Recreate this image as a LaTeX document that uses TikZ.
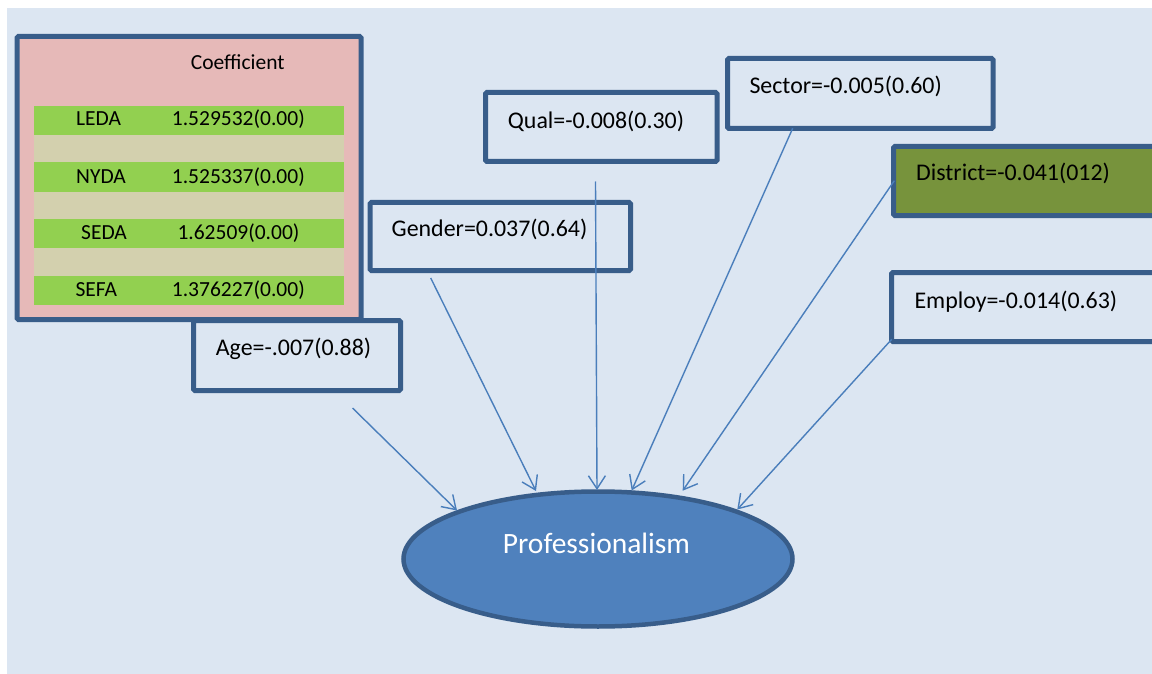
\documentclass[tikz,border=0pt]{standalone}
\usepackage{fontspec}
\setmainfont{Carlito}
\usetikzlibrary{arrows.meta,shapes.geometric}

\definecolor{bgblue}{HTML}{DCE6F2}
\definecolor{frame}{HTML}{385D8A}
\definecolor{pinkfill}{HTML}{E6B9B8}
\definecolor{rowgreen}{HTML}{92D050}
\definecolor{rowbeige}{HTML}{D3D0AE}
\definecolor{olive}{HTML}{77933C}
\definecolor{ovalfill}{HTML}{4F81BD}
\definecolor{linkblue}{HTML}{4A7EBB}

\tikzset{
  factor/.style={draw=frame, line width=5pt, rounded corners=1.5pt, inner sep=0pt, outer sep=0pt},
  lbl/.style={anchor=base west, inner sep=0pt, font=\fontsize{23.9}{28}\selectfont},
  tbl/.style={anchor=base west, inner sep=0pt, font=\fontsize{21.5}{26}\selectfont},
  rowband/.style={inner sep=0pt, outer sep=0pt, minimum width=309.5pt, minimum height=#1},
  effect/.style={draw=linkblue, line width=1.4pt, -{Straight Barb[length=13pt,width=17pt]}},
}

\begin{document}
\begin{tikzpicture}[x=1pt,y=-1pt]
  \useasboundingbox (0,0) rectangle (1152,674);
  \clip (0,0) rectangle (1152,674);
  \fill[bgblue] (7,8) rectangle (1160,680);

  % coefficient table
  \node[factor, fill=pinkfill, minimum width=344pt, minimum height=283pt] (table) at (189,178) {};
  \node[tbl] (coefhead) at (190.7,70) {Coefficient};
  \node[rowband=29pt, fill=rowgreen, anchor=north west] (r1) at (34,106) {};
  \node[rowband=27pt, fill=rowbeige, anchor=north west] (g1) at (34,135) {};
  \node[rowband=30pt, fill=rowgreen, anchor=north west] (r2) at (34,162) {};
  \node[rowband=27pt, fill=rowbeige, anchor=north west] (g2) at (34,192) {};
  \node[rowband=29pt, fill=rowgreen, anchor=north west] (r3) at (34,219) {};
  \node[rowband=28pt, fill=rowbeige, anchor=north west] (g3) at (34,248) {};
  \node[rowband=29pt, fill=rowgreen, anchor=north west] (r4) at (34,276) {};
  \node[tbl] (leda) at (76,126) {LEDA};
  \node[tbl] (ledav) at (171.7,126) {1.529532(0.00)};
  \node[tbl] (nyda) at (76,183.3) {NYDA};
  \node[tbl] (nydav) at (171.7,183.3) {1.525337(0.00)};
  \node[tbl] (seda) at (81,240) {SEDA};
  \node[tbl] (sedav) at (177.3,240) {1.62509(0.00)};
  \node[tbl] (sefa) at (75.3,296) {SEFA};
  \node[tbl] (sefav) at (171.7,296) {1.376227(0.00)};

  % factor boxes
  \node[factor, minimum width=207pt, minimum height=70pt] (age) at (297,355.5) {};
  \node[lbl] (agetxt) at (215.7,355.7) {Age=-.007(0.88)};

  \node[factor, minimum width=260.5pt, minimum height=68pt] (gender) at (500.25,236.5) {};
  \node[lbl] (gendertxt) at (391.5,236.7) {Gender=0.037(0.64)};

  \node[factor, minimum width=231.5pt, minimum height=69pt] (qual) at (601.25,127) {};
  \node[lbl] (qualtxt) at (507.7,128.3) {Qual=-0.008(0.30)};

  \node[factor, minimum width=265.5pt, minimum height=70pt] (sector) at (860.25,93.5) {};
  \node[lbl] (sectortxt) at (749.3,93.3) {Sector=-0.005(0.60)};

  \node[factor, fill=olive, minimum width=300pt, minimum height=69pt] (district) at (1043.5,181) {};
  \node[lbl] (districttxt) at (916,181) {District=-0.041(012)};

  \node[factor, minimum width=300pt, minimum height=69pt] (employ) at (1041.5,307) {};
  \node[lbl] (employtxt) at (914.3,308.3) {Employ=-0.014(0.63)};

  % outcome: filled oval, then its outline
  \node[ellipse, fill=ovalfill, inner sep=0pt, outer sep=0pt,
        minimum width=389pt, minimum height=135pt] (prof) at (598,559) {};
  \draw[frame, line width=4.5pt] (prof.center) ellipse [x radius=194.5, y radius=67.5];
  \node[anchor=base, inner sep=0pt, text=white, font=\fontsize{29.5}{34}\selectfont] (proftxt) at (596.5,553.3) {Professionalism};

  % connector end points
  \coordinate (ageS) at (352.5,408);
  \coordinate (ageE) at (457,510.5);
  \coordinate (genderS) at (430.7,278);
  \coordinate (genderE) at (536,491);
  \coordinate (qualS) at (595.5,181.5);
  \coordinate (qualE) at (597,490);
  \coordinate (sectorS) at (792.7,128.3);
  \coordinate (sectorE) at (631.7,490.5);
  \coordinate (districtS) at (894.3,180.7);
  \coordinate (districtE) at (682.7,490.7);
  \coordinate (employS) at (891.7,339.3);
  \coordinate (employE) at (737.3,509.5);

  \draw[effect] (ageS) -- (ageE);
  \draw[effect] (genderS) -- (genderE);
  \draw[effect] (qualS) -- (qualE);
  \draw[effect] (sectorS) -- (sectorE);
  \draw[effect] (districtS) -- (districtE);
  \draw[effect] (employS) -- (employE);
\end{tikzpicture}
\end{document}
